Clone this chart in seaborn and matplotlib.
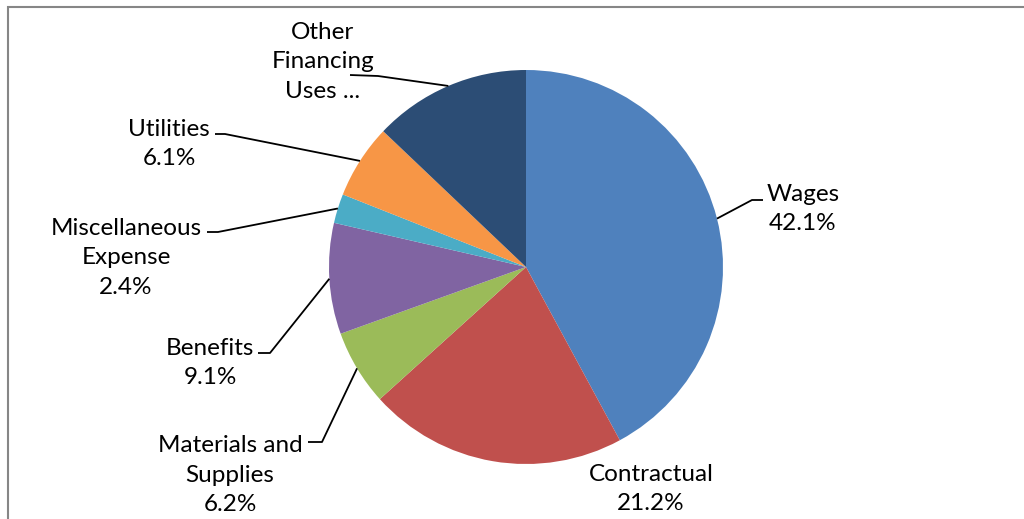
import numpy as np
import matplotlib.pyplot as plt
import seaborn as sns
from matplotlib.patches import Rectangle

# Slices, clockwise from 12 o'clock
categories = ["Wages", "Contractual", "Materials and\nSupplies", "Benefits",
              "Miscellaneous\nExpense", "Utilities", "Other\nFinancing\nUses ..."]
shares = [42.1, 21.2, 6.2, 9.1, 2.4, 6.1, 12.9]
pct_labels = ["42.1%", "21.2%", "6.2%", "9.1%", "2.4%", "6.1%", ""]
colors = ["#4F81BD", "#C0504D", "#9BBB59", "#8064A2", "#4BACC6", "#F79646", "#2C4D75"]

sns.set_theme(style="white")
plt.rcParams['font.family'] = ['Lato', 'DejaVu Sans']

W, H = 1024, 519
cx, cy, R = 526, 267, 197  # pie centre and radius in pixels


def to_data(px, py):
    return (px - cx) / R, (cy - py) / R


fig = plt.figure(figsize=(W / 100, H / 100), dpi=100)
ax = fig.add_axes([0, 0, 1, 1])
ax.pie(shares, colors=colors, startangle=90, counterclock=False, radius=1,
       wedgeprops=dict(linewidth=0))
ax.set_xlim(-cx / R, (W - cx) / R)
ax.set_ylim((cy - H) / R, cy / R)
ax.set_aspect('equal')
ax.axis('off')

# label centre (px), elbow point and end of short horizontal tick (px) or None
label_pos = [(803, 209), (651, 489), (230, 475), (210, 363), (126, 258), (169, 144), (323, 62)]
leaders = [((752, 200), (763, 200)),
           None,
           ((322, 442), (308, 442)),
           ((270, 353), (258, 353)),
           ((218, 232), (207, 232)),
           ((225, 134), (215, 134)),
           ((378, 76), (350, 75))]

total = sum(shares)
start = 0.0
for name, val, pct, pos, lead in zip(categories, shares, pct_labels, label_pos, leaders):
    mid = np.deg2rad((start + val / 2) / total * 360)
    start += val
    edge = (np.sin(mid), np.cos(mid))
    text = name + ("\n" + pct if pct else "")
    tx, ty = to_data(*pos)
    ax.text(tx, ty, text, ha='center', va='center', fontsize=17.5,
            linespacing=1.5, color='black')
    if lead is not None:
        e1 = to_data(*lead[0])
        e2 = to_data(*lead[1])
        ax.plot([edge[0], e1[0], e2[0]], [edge[1], e1[1], e2[1]],
                color='black', lw=1.3, solid_capstyle='butt')

# chart area border (extends past the right and bottom of the image)
fig.patches.append(Rectangle((8 / W, -0.1), 1.2, 1 - 7.5 / H + 0.1,
                             transform=fig.transFigure, fill=False,
                             edgecolor='#868686', lw=1.5))

fig.savefig("out.png", dpi=100)
